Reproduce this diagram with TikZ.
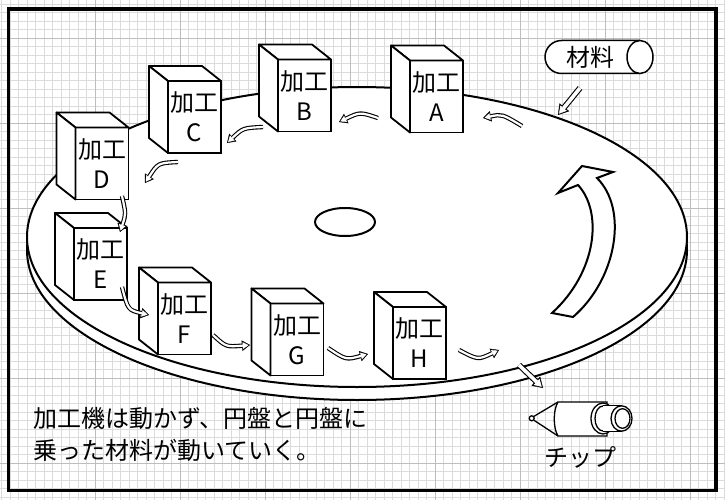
\documentclass[tikz,border=0pt]{standalone}
\usepackage{fontspec}
\setmainfont{Noto Sans CJK JP}
\usetikzlibrary{arrows.meta}
\definecolor{gridfine}{gray}{0.86}
\definecolor{gridmajor}{gray}{0.74}
\tikzstyle{fine}=[draw=gridfine,line width=0.9pt]
\tikzstyle{major}=[draw=gridmajor,line width=0.9pt]
\tikzstyle{sheet}=[draw=black,line width=3.3pt]
\tikzstyle{disk}=[draw=black,fill=white,line width=2pt]
\tikzstyle{machine}=[rectangle,draw=black,fill=white,line width=1.8pt,minimum width=53pt,minimum height=72pt,inner sep=0pt,outer sep=0pt,align=center,font=\fontsize{24}{30}\selectfont]
\tikzstyle{face}=[draw=black,fill=white,line width=1.8pt,line join=round]
\tikzstyle{flow}=[line width=4.4pt,-{Triangle[length=8pt,width=10.5pt,line width=0.4pt]},postaction={draw=white,line width=2.2pt,shorten >=1.6pt,-{Triangle[length=5.6pt,width=6.6pt,line width=0.4pt]}}]
\tikzstyle{bigflow}=[line width=5.8pt,-{Triangle[length=10pt,width=12.5pt,line width=0.4pt]},postaction={draw=white,line width=3.6pt,shorten >=1.8pt,-{Triangle[length=7pt,width=8.2pt,line width=0.4pt]}}]
\tikzstyle{sweep}=[draw=black,fill=white,line width=2pt]
\tikzstyle{stock}=[draw=black,fill=white,line width=1.5pt]
\tikzstyle{tool}=[draw=black,fill=white,line width=1.3pt]
\tikzstyle{words}=[inner sep=0pt,font=\fontsize{24}{32}\selectfont]

\begin{document}
\begin{tikzpicture}[x=1pt,y=-1pt]
\useasboundingbox (0,0) rectangle (725,500);
% grid paper
\foreach \gx in {1.5,10,...,725} \draw[fine] (\gx,0) -- (\gx,500);
\foreach \gy in {4,12.5,...,500} \draw[fine] (0,\gy) -- (725,\gy);
\foreach \gx in {95,180,...,690} \draw[major] (\gx,0) -- (\gx,500);
\foreach \gy in {38,123,...,463} \draw[major] (0,\gy) -- (725,\gy);
\draw[sheet] (8.5,9) rectangle (716,490.5);

% turntable
\draw[disk] (357,250) ellipse [x radius=330,y radius=150];
\draw[disk] (357,237) ellipse [x radius=330,y radius=150];
\draw[disk] (345,222) ellipse [x radius=30,y radius=14];
\draw[sweep] (552,313) -- (573,317) .. controls (616,280) and (629,210) .. (597,178)
  -- (613,172) -- (582,166) -- (558,193) -- (578,185)
  .. controls (603,212) and (597,272) .. (552,313) -- cycle;

% machines
\node[machine] (mA) at (436.5,96.5) {加工\\A};
\node[machine] (mB) at (304.5,95.5) {加工\\B};
\node[machine] (mC) at (194.5,117) {加工\\C};
\node[machine] (mD) at (102,163.5) {加工\\D};
\node[machine] (mE) at (100.5,264) {加工\\E};
\node[machine] (mF) at (184.5,318.5) {加工\\F};
\node[machine] (mG) at (297,339.5) {加工\\G};
\node[machine] (mH) at (419.5,343) {加工\\H};
\foreach \m in {mA,mB,mC,mD,mE,mF,mG,mH}{
  \draw[face] (\m.north west) -- ++(-19,-15) -- ++(53,0) -- (\m.north east) -- cycle;
  \draw[face] (\m.north west) -- ++(-19,-15) -- ++(0,72) -- (\m.south west) -- cycle;
}

% moving material
\coordinate (s1) at (522,126); \coordinate (t1) at (483,118);
\coordinate (s2) at (378,118); \coordinate (t2) at (339,122);
\coordinate (s3) at (263,127); \coordinate (t3) at (227,143);
\coordinate (s4) at (178,162); \coordinate (t4) at (145,183);
\coordinate (s5) at (122,196); \coordinate (t5) at (120,232);
\coordinate (s6) at (122,287); \coordinate (t6) at (149,315);
\coordinate (s7) at (213,335); \coordinate (t7) at (250,345);
\coordinate (s8) at (328,348); \coordinate (t8) at (368,354);
\coordinate (s9) at (459,350); \coordinate (t9) at (499,350);
\draw[flow] (s1) .. controls (502,114) .. (t1);
\draw[flow] (s2) .. controls (360,112) .. (t2);
\draw[flow] (s3) .. controls (243,128) .. (t3);
\draw[flow] (s4) .. controls (158,163) .. (t4);
\draw[flow] (s5) .. controls (126,214) .. (t5);
\draw[flow] (s6) .. controls (128,310) .. (t6);
\draw[flow] (s7) .. controls (226,347) .. (t7);
\draw[flow] (s8) .. controls (346,360) .. (t8);
\draw[flow] (s9) .. controls (478,360) .. (t9);

% stock
\draw[stock] (640,40.5) -- (561.5,40.5) arc [start angle=-90,end angle=-270,radius=16.5] -- (640,73.5);
\draw[stock] (640,57) ellipse [x radius=13,y radius=16.5];
\node[words] (stock) at (590,57) {材料};
\coordinate (s10) at (580,88); \coordinate (t10) at (558,115);
\draw[bigflow] (s10) -- (t10);

% chip
\coordinate (s11) at (519,365); \coordinate (t11) at (543,388);
\draw[bigflow] (s11) -- (t11);
\draw[tool] (531.7,418.3) circle [radius=2.5];
\draw[tool] (534,416.3) -- (558,402) (534,420.3) -- (558,436);
\draw[tool] (558,402) -- (607,402) -- (607,436) -- (558,436) .. controls (553,428) and (553,410) .. (558,402) -- cycle;
\draw[tool] (603,418.5) ellipse [x radius=12,y radius=15.5];
\draw[tool] (603,418.5) ellipse [x radius=8,y radius=12.5];
\draw[tool] (603,405.8) -- (621.5,405.8) -- (621.5,431.2) -- (603,431.2);
\draw[tool] (621.5,418.5) ellipse [x radius=10.5,y radius=12.7];
\draw[tool] (622.5,418.5) ellipse [x radius=7.5,y radius=9.8];
\node[words] (chip) at (580,457) {チップ};

\node[words,anchor=north west,align=left] (note) at (33,407) {加工機は動かず、円盤と円盤に\\乗った材料が動いていく。};
\end{tikzpicture}
\end{document}
